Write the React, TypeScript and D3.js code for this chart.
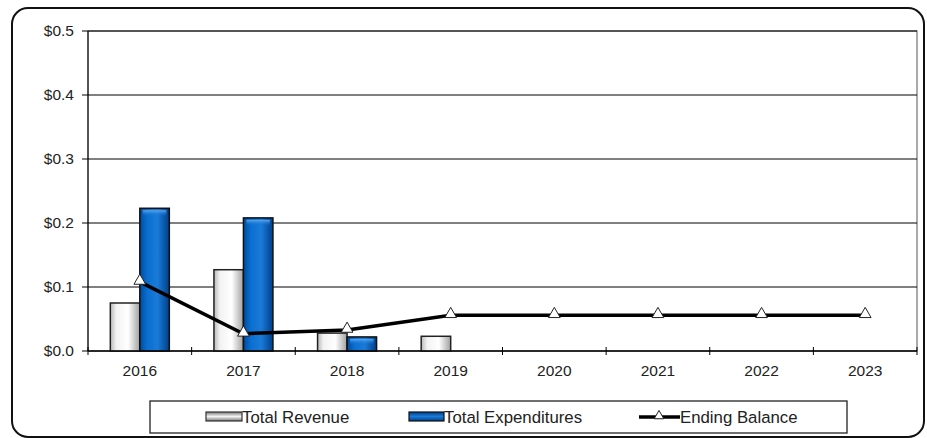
import * as d3 from "d3";

// chart data (in $ millions)
const years = ["2016", "2017", "2018", "2019", "2020", "2021", "2022", "2023"];
const totalRevenue = [0.075, 0.127, 0.028, 0.023, 0, 0, 0, 0];
const totalExpenditures = [0.223, 0.208, 0.022, 0, 0, 0, 0, 0];
const endingBalance = [0.108, 0.027, 0.033, 0.056, 0.056, 0.056, 0.056, 0.056];
const yTicks = [0, 0.1, 0.2, 0.3, 0.4, 0.5];

const W = 927;
const H = 438;
const margin = { top: 31, right: 10, bottom: 87, left: 88 };
const chartW = W - margin.left - margin.right;
const chartH = H - margin.top - margin.bottom;
const font = "'Liberation Sans', Arial, sans-serif";

export default function App() {
	const x = d3.scaleBand().domain(years).range([0, chartW]);
	const y = d3.scaleLinear().domain([0, 0.5]).range([chartH, 0]);
	const barW = 29.5;

	const line = d3
		.line<number>()
		.x((_, i) => (x(years[i]) || 0) + x.bandwidth() / 2)
		.y((d) => y(d));

	const tri = d3.symbol().type(d3.symbolTriangle).size(60);

	return (
		<svg
			width={W}
			height={H}
			style={{ position: "absolute", left: 0, top: 0, fontFamily: font }}
		>
			<defs>
				<linearGradient id="revGrad" x1="0" x2="1" y1="0" y2="0">
					<stop offset="0" stopColor="#b8b8b8" />
					<stop offset="0.2" stopColor="#f2f2f2" />
					<stop offset="0.6" stopColor="#ffffff" />
					<stop offset="1" stopColor="#a0a0a0" />
				</linearGradient>
				<linearGradient id="expGrad" x1="0" x2="1" y1="0" y2="0">
					<stop offset="0" stopColor="#004a9c" />
					<stop offset="0.25" stopColor="#0a6fd0" />
					<stop offset="0.6" stopColor="#1a7ad8" />
					<stop offset="1" stopColor="#003f87" />
				</linearGradient>
				<linearGradient id="expTop" x1="0" x2="0" y1="0" y2="1">
					<stop offset="0" stopColor="#5aa8f0" />
					<stop offset="1" stopColor="#0a6fd0" stopOpacity="0" />
				</linearGradient>
				<linearGradient id="legRev" x1="0" x2="0" y1="0" y2="1">
					<stop offset="0" stopColor="#777" />
					<stop offset="0.5" stopColor="#f4f4f4" />
					<stop offset="1" stopColor="#777" />
				</linearGradient>
				<linearGradient id="legExp" x1="0" x2="0" y1="0" y2="1">
					<stop offset="0" stopColor="#003f87" />
					<stop offset="0.5" stopColor="#1a7ad8" />
					<stop offset="1" stopColor="#003f87" />
				</linearGradient>
			</defs>
			<rect x={0} y={0} width={W} height={H} fill="white" />
			{/* outer frame */}
			<rect
				x={12}
				y={8}
				width={912}
				height={429}
				rx={16}
				fill="white"
				stroke="#111"
				strokeWidth={2}
			/>
			<g transform={`translate(${margin.left},${margin.top})`}>
				<rect width={chartW} height={chartH} fill="white" stroke="#555" strokeWidth={1} />
				{yTicks.map((t) => (
					<g key={t} transform={`translate(0,${y(t)})`}>
						<line x1={0} x2={chartW} stroke="#000" strokeWidth={1} />
						<line x1={-6} x2={0} stroke="#000" />
						<text x={-14} dy="0.35em" textAnchor="end" fontSize={15.5} fill="#222">
							${t.toFixed(1)}
						</text>
					</g>
				))}
				<line x1={0} x2={0} y1={0} y2={chartH} stroke="#000" />
				{/* x axis ticks */}
				{years.map((yr) => (
					<g key={yr}>
						<line
							x1={x(yr) || 0}
							x2={x(yr) || 0}
							y1={chartH - 4}
							y2={chartH + 4}
							stroke="#000"
						/>
						<text
							x={(x(yr) || 0) + x.bandwidth() / 2}
							y={chartH + 25}
							textAnchor="middle"
							fontSize={15.5}
							fill="#222"
						>
							{yr}
						</text>
					</g>
				))}
				<line x1={chartW} x2={chartW} y1={chartH - 4} y2={chartH + 4} stroke="#000" />
				{/* bars */}
				{years.map((yr, i) => {
					const cx = (x(yr) || 0) + x.bandwidth() / 2;
					const r = totalRevenue[i];
					const e = totalExpenditures[i];
					return (
						<g key={"b" + yr}>
							{r > 0 && (
								<rect
									x={cx - barW}
									y={y(r)}
									width={barW}
									height={chartH - y(r)}
									fill="url(#revGrad)"
									stroke="#222"
									strokeWidth={1.5}
								/>
							)}
							{e > 0 && (
								<>
									<rect
										x={cx}
										y={y(e)}
										width={barW}
										height={chartH - y(e)}
										fill="url(#expGrad)"
										stroke="#111"
										strokeWidth={1.5}
									/>
									<rect
										x={cx + 3}
										y={y(e) + 2}
										width={barW - 6}
										height={6}
										fill="url(#expTop)"
									/>
								</>
							)}
						</g>
					);
				})}
				<line x1={0} x2={chartW} y1={chartH} y2={chartH} stroke="#000" />
				{/* ending balance line */}
				<path d={line(endingBalance) || ""} fill="none" stroke="#000" strokeWidth={3.5} />
				{endingBalance.map((v, i) => (
					<path
						key={"m" + i}
						d={tri() || ""}
						transform={`translate(${(x(years[i]) || 0) + x.bandwidth() / 2},${y(v) - 1})`}
						fill="white"
						stroke="#222"
						strokeWidth={1}
					/>
				))}
			</g>
			{/* legend */}
			<g fontSize={16.8} fill="#222">
				<rect x={150} y={401} width={697} height={32} fill="white" stroke="#222" strokeWidth={1.3} />
				<rect x={206} y={412} width={36} height={9} fill="url(#legRev)" stroke="#333" strokeWidth={1.2} />
				<text x={242} y={423}>Total Revenue</text>
				<rect x={409} y={412} width={35} height={9} fill="url(#legExp)" stroke="#111" strokeWidth={1.2} />
				<text x={444} y={423}>Total Expenditures</text>
				<line x1={639} x2={680} y1={417} y2={417} stroke="#000" strokeWidth={3.5} />
				<path d={d3.symbol().type(d3.symbolTriangle).size(40)() || ""} transform="translate(659,416)" fill="white" stroke="#222" />
				<text x={680} y={423}>Ending Balance</text>
			</g>
		</svg>
	);
}
